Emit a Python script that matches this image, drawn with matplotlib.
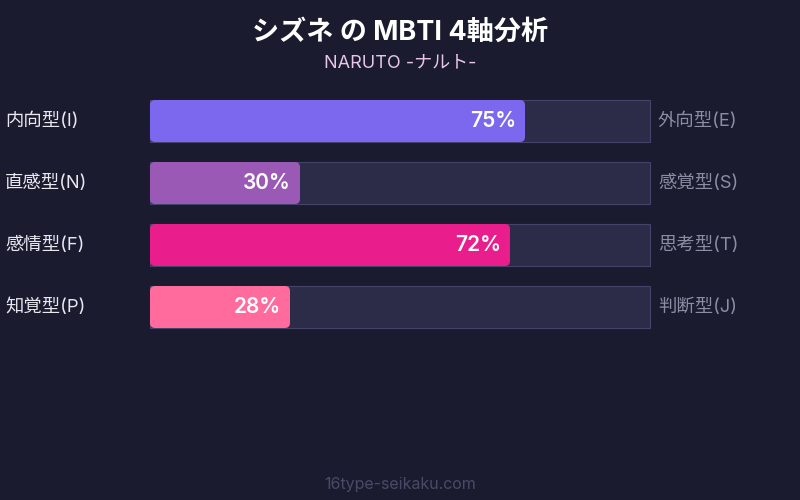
import matplotlib
matplotlib.use('Agg')
from matplotlib import pyplot as plt
from matplotlib.patches import FancyBboxPatch, Rectangle

plt.rcParams['font.family'] = ['Inter', 'Noto Sans CJK JP', 'DejaVu Sans']

title = 'シズネ の MBTI 4軸分析'
subtitle = 'NARUTO -ナルト-'
left_labels = ['内向型(I)', '直感型(N)', '感情型(F)', '知覚型(P)']
right_labels = ['外向型(E)', '感覚型(S)', '思考型(T)', '判断型(J)']
percents = [75, 30, 72, 28]
bar_colors = ['#7b68ee', '#9b59b6', '#e91e8c', '#ff6b9d']

bg = '#1a1b2e'
fig = plt.figure(figsize=(8, 5), dpi=100, facecolor=bg)
ax = fig.add_axes([0, 0, 1, 1])
ax.set_facecolor(bg)
ax.set_xlim(0, 800)
ax.set_ylim(500, 0)
ax.axis('off')

ax.text(400, 33, title, ha='center', va='center', color='white',
        fontsize=19.5, fontweight='bold')
ax.text(400, 63, subtitle, ha='center', va='center', color='#e8c6ea',
        fontsize=13)

x0, width, h = 150, 500, 42
for i in range(len(percents)):
    yc = 121 + i * 62
    top = yc - h / 2
    ax.add_patch(Rectangle((x0, top), width, h, facecolor='#2c2b48',
                           edgecolor='#44436a', linewidth=0.8))
    w = width * percents[i] / 100
    ax.add_patch(FancyBboxPatch((x0 + 5, top + 5), w - 10, h - 10,
                                boxstyle='round,pad=5',
                                facecolor=bar_colors[i], edgecolor='none'))
    ax.text(x0 + w - 9, yc, f'{percents[i]}%', ha='right', va='center',
            color='white', fontsize=15, fontweight='semibold')
    ax.text(5, yc, left_labels[i], ha='left', va='center', color='#e8e8f0',
            fontsize=13.2)
    ax.text(658, yc, right_labels[i], ha='left', va='center', color='#8c8ca4',
            fontsize=13.2)

ax.text(400, 484, '16type-seikaku.com', ha='center', va='center',
        color='#4a4a68', fontsize=11.5)

fig.savefig('out.png', dpi=100, facecolor=bg)
